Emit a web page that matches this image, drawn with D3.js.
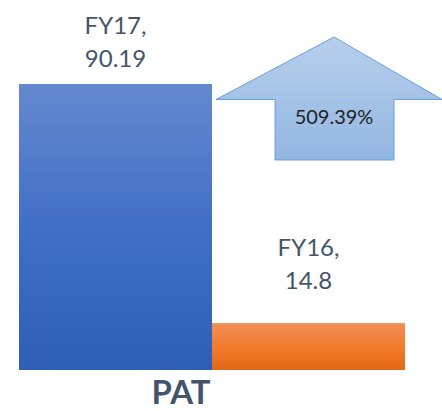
<!DOCTYPE html>
<html>
<head>
<meta charset="utf-8">
<script src="https://cdn.jsdelivr.net/npm/d3@7"></script>
<style>
  html, body { margin: 0; padding: 0; background: #fff; }
  svg { display: block; }
</style>
</head>
<body>
<div id="chart"></div>
<script>
// data
const categories = ['FY17', 'FY16'];
const values = [90.19, 14.8];
const growthLabel = '509.39%';
const axisTitle = 'PAT';

const width = 442, height = 411;
const margin = { top: 84, right: 37, bottom: 41, left: 19 };

const svg = d3.select('#chart').append('svg')
  .attr('width', width)
  .attr('height', height);

const defs = svg.append('defs');

function grad(id, stops) {
  const g = defs.append('linearGradient').attr('id', id)
    .attr('x1', 0).attr('y1', 0).attr('x2', 0).attr('y2', 1);
  stops.forEach(s => g.append('stop').attr('offset', s[0]).attr('stop-color', s[1]));
}
grad('gBlue', [[0, '#6489CE'], [0.5, '#416FC6'], [1, '#2E5EB6']]);
grad('gOrange', [[0, '#F08F5A'], [0.5, '#F47C2C'], [1, '#E26816']]);
grad('gArrow', [[0, '#B7CFEC'], [1, '#93B6E2']]);

const barColors = ['url(#gBlue)', 'url(#gOrange)'];

const x = d3.scaleBand()
  .domain(categories)
  .range([margin.left, width - margin.right])
  .padding(0);

const y = d3.scaleLinear()
  .domain([0, d3.max(values)])
  .range([height - margin.bottom, margin.top]);

const data = categories.map((c, i) => ({ label: c, value: values[i] }));

svg.selectAll('.bar')
  .data(data)
  .enter().append('rect')
  .attr('class', 'bar')
  .attr('x', d => x(d.label))
  .attr('y', d => y(d.value))
  .attr('width', x.bandwidth())
  .attr('height', d => y(0) - y(d.value))
  .attr('fill', (d, i) => barColors[i]);

// data labels, two lines each
const labelGap = [17, 34];
const labels = svg.selectAll('.lbl')
  .data(data)
  .enter().append('text')
  .attr('class', 'lbl')
  .attr('text-anchor', 'middle')
  .attr('font-family', 'Lato, "Open Sans", sans-serif')
  .attr('font-size', 24)
  .attr('fill', '#44546A');

labels.append('tspan')
  .attr('x', d => x(d.label) + x.bandwidth() / 2)
  .attr('y', (d, i) => y(d.value) - labelGap[i] - 33)
  .text(d => d.label + ',');
labels.append('tspan')
  .attr('x', d => x(d.label) + x.bandwidth() / 2)
  .attr('y', (d, i) => y(d.value) - labelGap[i])
  .text(d => d.value);

// growth arrow
const ax = { left: 216, tip: 334, right: 442, shaftL: 275, shaftR: 394 };
const ay = { tip: 37, wing: 99.5, bottom: 160 };
const arrow = d3.path();
arrow.moveTo(ax.tip, ay.tip);
arrow.lineTo(ax.right, ay.wing);
arrow.lineTo(ax.shaftR, ay.wing);
arrow.lineTo(ax.shaftR, ay.bottom);
arrow.lineTo(ax.shaftL, ay.bottom);
arrow.lineTo(ax.shaftL, ay.wing);
arrow.lineTo(ax.left, ay.wing);
arrow.closePath();

svg.append('path')
  .attr('d', arrow.toString())
  .attr('fill', 'url(#gArrow)')
  .attr('stroke', '#6A9FD8')
  .attr('stroke-width', 1);

svg.append('text')
  .attr('x', ax.tip)
  .attr('y', 124)
  .attr('text-anchor', 'middle')
  .attr('font-family', 'Lato, "Open Sans", sans-serif')
  .attr('font-size', 20)
  .attr('fill', '#1E1E1E')
  .text(growthLabel);

// category axis title
svg.append('text')
  .attr('x', 181)
  .attr('y', 404)
  .attr('text-anchor', 'middle')
  .attr('font-family', 'Lato, "Open Sans", sans-serif')
  .attr('font-weight', 'bold')
  .attr('font-size', 32)
  .attr('textLength', 59)
  .attr('lengthAdjust', 'spacingAndGlyphs')
  .attr('fill', '#44546A')
  .text(axisTitle);
</script>
</body>
</html>
